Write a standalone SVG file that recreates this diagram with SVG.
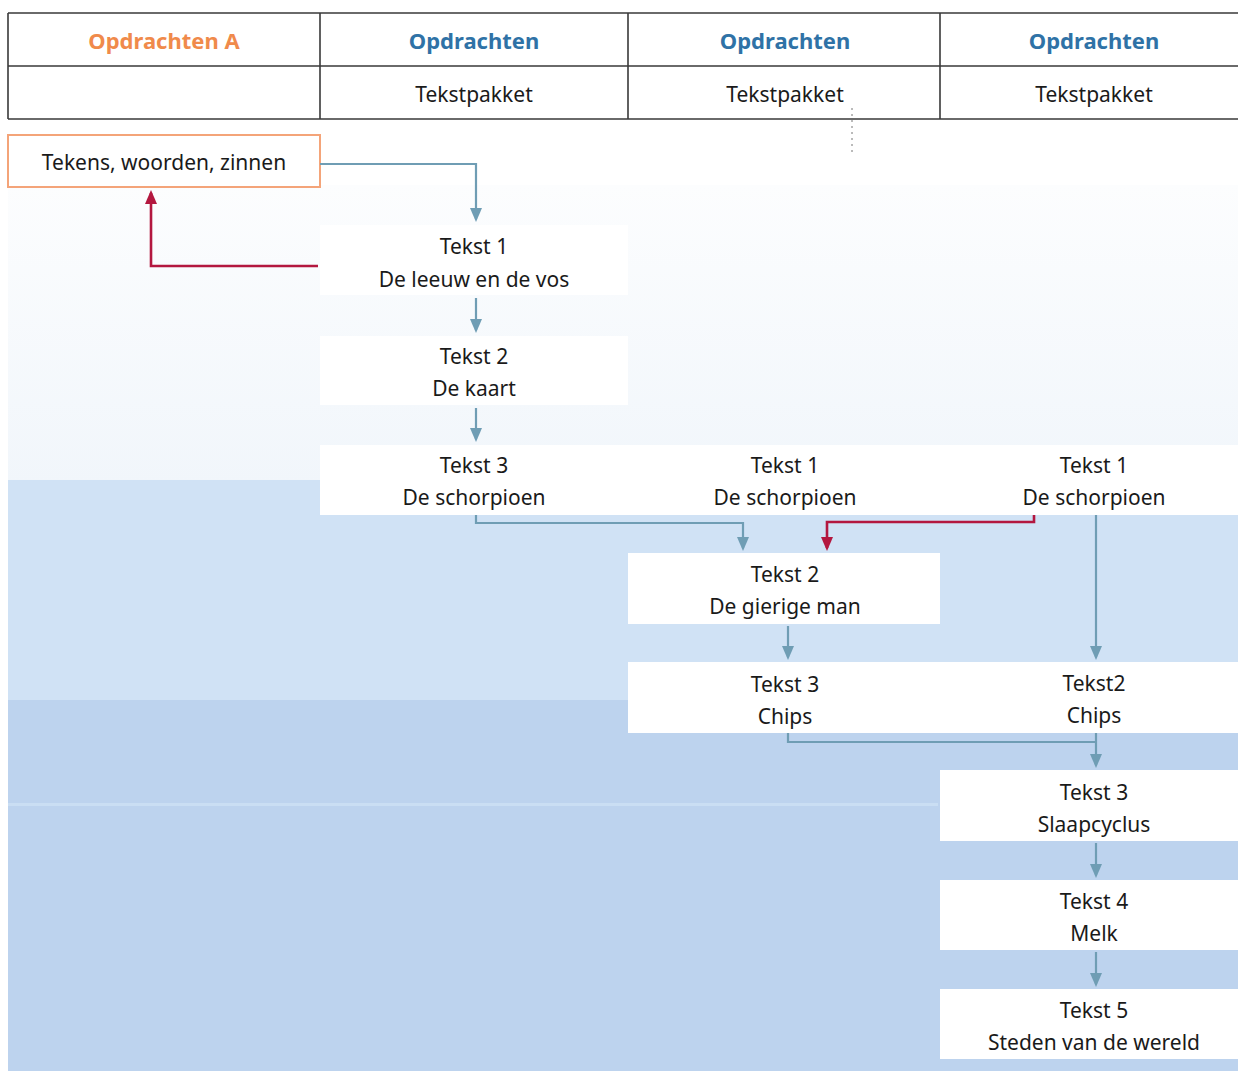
<svg xmlns="http://www.w3.org/2000/svg" width="1238" height="1071" viewBox="0 0 1238 1071">
<defs>
<linearGradient id="topband" x1="0" y1="0" x2="0" y2="1">
<stop offset="0" stop-color="#fcfdfe"/>
<stop offset="1" stop-color="#f1f6fb"/>
</linearGradient>
<marker id="ab" viewBox="0 0 14 12" refX="11" refY="6" markerWidth="14" markerHeight="12" markerUnits="userSpaceOnUse" orient="auto">
<path d="M0,0 L14,6 L0,12 Z" fill="#6f9db4"/>
</marker>
<marker id="ar" viewBox="0 0 14 12" refX="11" refY="6" markerWidth="14" markerHeight="12" markerUnits="userSpaceOnUse" orient="auto">
<path d="M0,0 L14,6 L0,12 Z" fill="#b3173f"/>
</marker>
</defs>
<style>
text{font-family:"Noto Sans","Open Sans","Liberation Sans",sans-serif;font-size:21px;fill:#1a1a1a;text-anchor:middle}
.hd{font-weight:bold;font-size:22px}
.ho{fill:#f08a4b}
.hb{fill:#2f72a6}
.grid{stroke:#3a3a3a;stroke-width:1.6;fill:none}
.box{fill:#ffffff}
.ln{fill:none;stroke:#6f9db4;stroke-width:2.2}
.cb{fill:none;stroke:#6f9db4;stroke-width:2.2;marker-end:url(#ab)}
.cr{fill:none;stroke:#b3173f;stroke-width:2.6;marker-end:url(#ar)}
</style>
<rect width="1238" height="1071" fill="#ffffff"/>
<g id="background">
<rect x="8" y="185" width="1230" height="300" fill="url(#topband)"/>
<rect x="8" y="480" width="1230" height="222" fill="#d0e2f5"/>
<rect x="8" y="700" width="1230" height="371" fill="#bdd3ee"/>
<rect x="8" y="803" width="930" height="3" fill="#cadef3"/>
</g>
<g id="table">
<rect x="8" y="13" width="1240" height="106" fill="#ffffff"/>
<path class="grid" d="M8,13 H1238 M8,66 H1238 M8,119 H1238 M8,13 V119 M320,13 V119 M628,13 V119 M940,13 V119"/>
<text class="hd ho" x="164" y="49">Opdrachten A</text>
<text class="hd hb" x="474" y="49">Opdrachten</text>
<text class="hd hb" x="785" y="49">Opdrachten</text>
<text class="hd hb" x="1094" y="49">Opdrachten</text>
<text x="474" y="102">Tekstpakket</text>
<text x="785" y="102">Tekstpakket</text>
<text x="1094" y="102">Tekstpakket</text>
<path d="M852,108 V156" stroke="#777" stroke-width="1" stroke-dasharray="2,4" fill="none"/>
</g>
<g id="node-tekens">
<rect x="8" y="135" width="312" height="52" fill="#ffffff" stroke="#f4a479" stroke-width="2"/>
<text x="164" y="170">Tekens, woorden, zinnen</text>
</g>
<g id="node-a-t1">
<rect class="box" x="320" y="225" width="308" height="70"/>
<text x="474" y="254">Tekst 1</text>
<text x="474" y="287">De leeuw en de vos</text>
</g>
<g id="node-a-t2">
<rect class="box" x="320" y="336" width="308" height="69"/>
<text x="474" y="364">Tekst 2</text>
<text x="474" y="396">De kaart</text>
</g>
<g id="node-row3">
<rect class="box" x="320" y="445" width="918" height="70"/>
</g>
<g id="node-a-t3">
<text x="474" y="473">Tekst 3</text>
<text x="474" y="505">De schorpioen</text>
</g>
<g id="node-b-t1">
<text x="785" y="473">Tekst 1</text>
<text x="785" y="505">De schorpioen</text>
</g>
<g id="node-c-t1">
<text x="1094" y="473">Tekst 1</text>
<text x="1094" y="505">De schorpioen</text>
</g>
<g id="node-b-t2">
<rect class="box" x="628" y="553" width="312" height="71"/>
<text x="785" y="582">Tekst 2</text>
<text x="785" y="614">De gierige man</text>
</g>
<g id="node-chips-row">
<rect class="box" x="628" y="662" width="610" height="71"/>
</g>
<g id="node-b-t3">
<text x="785" y="692">Tekst 3</text>
<text x="785" y="724">Chips</text>
</g>
<g id="node-c-t2">
<text x="1094" y="691">Tekst2</text>
<text x="1094" y="723">Chips</text>
</g>
<g id="node-c-t3">
<rect class="box" x="940" y="770" width="298" height="71"/>
<text x="1094" y="800">Tekst 3</text>
<text x="1094" y="832">Slaapcyclus</text>
</g>
<g id="node-c-t4">
<rect class="box" x="940" y="880" width="298" height="70"/>
<text x="1094" y="909">Tekst 4</text>
<text x="1094" y="941">Melk</text>
</g>
<g id="node-c-t5">
<rect class="box" x="940" y="989" width="298" height="70"/>
<text x="1094" y="1018">Tekst 5</text>
<text x="1094" y="1050">Steden van de wereld</text>
</g>
<g id="connectors">
<path class="cb" d="M320,164 H476 V219"/>
<path class="cr" d="M318,266 H151 V193"/>
<path class="cb" d="M476,298 V330"/>
<path class="cb" d="M476,408 V439"/>
<path class="cb" d="M476,515 V523 H743 V548"/>
<path class="cr" d="M1034,515 V522 H827 V548"/>
<path class="cb" d="M1096,515 V657"/>
<path class="cb" d="M788,626 V657"/>
<path class="ln" d="M788,733 V742 H1096"/>
<path class="cb" d="M1096,733 V765"/>
<path class="cb" d="M1096,843 V875"/>
<path class="cb" d="M1096,952 V984"/>
</g>
</svg>
